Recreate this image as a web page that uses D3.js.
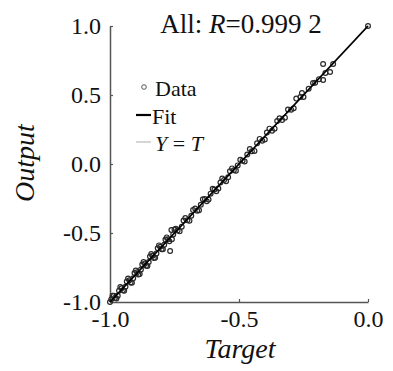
<!DOCTYPE html>
<html>
<head>
<meta charset="utf-8">
<script src="https://cdn.jsdelivr.net/npm/d3@7"></script>
<style>
  body { margin: 0; background: #fff; }
  svg { display: block; font-family: "Liberation Serif", "Times New Roman", serif; }
</style>
</head>
<body>
<svg id="chart" width="393" height="371"></svg>
<script>
// values
const target = [
  -1.000, -0.995, -0.990, -0.985, -0.980, -0.975, -0.970, -0.965, -0.960, -0.955,
  -0.950, -0.945, -0.940, -0.935, -0.930, -0.925, -0.920, -0.915, -0.910, -0.905,
  -0.900, -0.895, -0.890, -0.885, -0.880, -0.875, -0.870, -0.865, -0.860, -0.855,
  -0.850, -0.845, -0.840, -0.835, -0.830, -0.825, -0.820, -0.815, -0.810, -0.805,
  -0.800, -0.795, -0.790, -0.785, -0.780, -0.775, -0.770, -0.767, -0.762, -0.760,
  -0.755, -0.750, -0.745, -0.738, -0.730, -0.722, -0.715, -0.708, -0.700, -0.692,
  -0.685, -0.678, -0.670, -0.662, -0.655, -0.648, -0.640, -0.632, -0.625, -0.618,
  -0.610, -0.602, -0.595, -0.588, -0.580, -0.572, -0.565, -0.558, -0.550, -0.542,
  -0.535, -0.527, -0.520, -0.512, -0.505, -0.495, -0.486, -0.478, -0.468, -0.458,
  -0.450, -0.440, -0.430, -0.420, -0.410, -0.400, -0.392, -0.382, -0.372, -0.362,
  -0.352, -0.343, -0.333, -0.322, -0.310, -0.298, -0.288, -0.278, -0.262, -0.256,
  -0.250, -0.230, -0.213, -0.205, -0.190, -0.174, -0.174, -0.165, -0.147, -0.135,
  0.000
];
const output = [
  -1.000, -0.980, -0.955, -0.955, -0.970, -0.975, -0.955, -0.918, -0.892, -0.900,
  -0.915, -0.918, -0.890, -0.852, -0.830, -0.842, -0.858, -0.860, -0.828, -0.790,
  -0.772, -0.785, -0.800, -0.798, -0.765, -0.728, -0.710, -0.722, -0.738, -0.740,
  -0.710, -0.670, -0.652, -0.665, -0.682, -0.680, -0.648, -0.610, -0.590, -0.600,
  -0.618, -0.618, -0.585, -0.548, -0.532, -0.545, -0.560, -0.630, -0.478, -0.545,
  -0.510, -0.475, -0.470, -0.481, -0.488, -0.454, -0.410, -0.391, -0.408, -0.412,
  -0.375, -0.334, -0.322, -0.339, -0.335, -0.296, -0.255, -0.254, -0.270, -0.258,
  -0.215, -0.179, -0.185, -0.198, -0.178, -0.134, -0.105, -0.116, -0.125, -0.096,
  -0.052, -0.032, -0.045, -0.049, -0.010, 0.030, 0.023, 0.019, 0.069, 0.109,
  0.092, 0.095, 0.150, 0.182, 0.168, 0.178, 0.228, 0.256, 0.241, 0.256,
  0.311, 0.332, 0.319, 0.336, 0.395, 0.394, 0.404, 0.474, 0.486, 0.514,
  0.485, 0.545, 0.587, 0.588, 0.615, 0.725, 0.609, 0.660, 0.667, 0.725,
  1.000
];
const fitLine = [[-1, -1], [0, 1]];
const idealLine = [[-1, -1], [0, 1]];
const xTicks = [-1, -0.5, 0];
const yTicks = [-1, -0.5, 0, 0.5, 1];
const title = "All: ";
const rValue = "=0.999 2";

const svg = d3.select('#chart');
const margin = { top: 26, right: 25, bottom: 69, left: 110 };
const width = 393 - margin.left - margin.right;
const height = 371 - margin.top - margin.bottom;

const x = d3.scaleLinear().domain([-1, 0]).range([margin.left, margin.left + width]);
const y = d3.scaleLinear().domain([-1, 1]).range([margin.top + height, margin.top]);

const axisColor = '#555';
const fmt = d => d3.format('.1f')(d).replace('−', '-');

// axes
const gx = svg.append('g')
  .attr('transform', `translate(0,${margin.top + height})`)
  .call(d3.axisBottom(x).tickValues(xTicks).tickSizeInner(-3).tickSizeOuter(0).tickPadding(10)
    .tickFormat(fmt));
const gy = svg.append('g')
  .attr('transform', `translate(${margin.left},0)`)
  .call(d3.axisLeft(y).tickValues(yTicks).tickSizeInner(-3).tickSizeOuter(0).tickPadding(9)
    .tickFormat(fmt));

[gx, gy].forEach(g => {
  g.select('.domain').attr('stroke', axisColor).attr('stroke-width', 1.5);
  g.selectAll('.tick line').attr('stroke', axisColor).attr('stroke-width', 1.2);
  g.selectAll('.tick text')
    .attr('fill', '#111')
    .style('font-family', '"Liberation Serif", serif')
    .style('font-size', '24px');
});
gx.selectAll('.tick text').attr('dy', '0.62em');

// lines
const line = d3.line().x(d => x(d[0])).y(d => y(d[1]));
svg.append('path').datum(idealLine).attr('d', line)
  .attr('fill', 'none').attr('stroke', '#bbb').attr('stroke-width', 1.2);

// points
const pts = target.map((t, i) => ({ t, o: output[i] }));
svg.append('g').selectAll('circle')
  .data(pts)
  .enter().append('circle')
  .attr('cx', d => x(d.t))
  .attr('cy', d => y(d.o))
  .attr('r', 2.4)
  .attr('fill', 'none')
  .attr('stroke', '#2a2a2a')
  .attr('stroke-width', 1.2);

svg.append('path').datum(fitLine).attr('d', line)
  .attr('fill', 'none').attr('stroke', '#000').attr('stroke-width', 1.8);

// title
const t = svg.append('text')
  .attr('x', 241).attr('y', 33)
  .attr('text-anchor', 'middle')
  .style('font-size', '27px').attr('fill', '#111');
t.append('tspan').text(title);
t.append('tspan').style('font-style', 'italic').text('R');
t.append('tspan').text(rValue);

// legend
const lg = svg.append('g').style('font-size', '22px').attr('fill', '#111');
lg.append('circle').attr('cx', 144).attr('cy', 87).attr('r', 2.3)
  .attr('fill', 'none').attr('stroke', '#555');
lg.append('text').attr('x', 155).attr('y', 96).text('Data');
lg.append('line').attr('x1', 136).attr('x2', 151).attr('y1', 115).attr('y2', 115)
  .attr('stroke', '#000').attr('stroke-width', 2.2);
lg.append('text').attr('x', 152).attr('y', 124).text('Fit');
lg.append('line').attr('x1', 136).attr('x2', 151).attr('y1', 142).attr('y2', 142)
  .attr('stroke', '#bbb').attr('stroke-width', 1.2);
const yt = lg.append('text').attr('x', 155).attr('y', 151);
yt.append('tspan').style('font-style', 'italic').text('Y');
yt.append('tspan').text(' = ');
yt.append('tspan').style('font-style', 'italic').text('T');

// axis titles
svg.append('text')
  .attr('x', 240).attr('y', 358)
  .attr('text-anchor', 'middle')
  .style('font-size', '28px').style('font-style', 'italic').attr('fill', '#111')
  .text('Target');
svg.append('text')
  .attr('transform', 'translate(34,163) rotate(-90)')
  .attr('text-anchor', 'middle')
  .style('font-size', '28px').style('font-style', 'italic').attr('fill', '#111')
  .text('Output');
</script>
</body>
</html>
